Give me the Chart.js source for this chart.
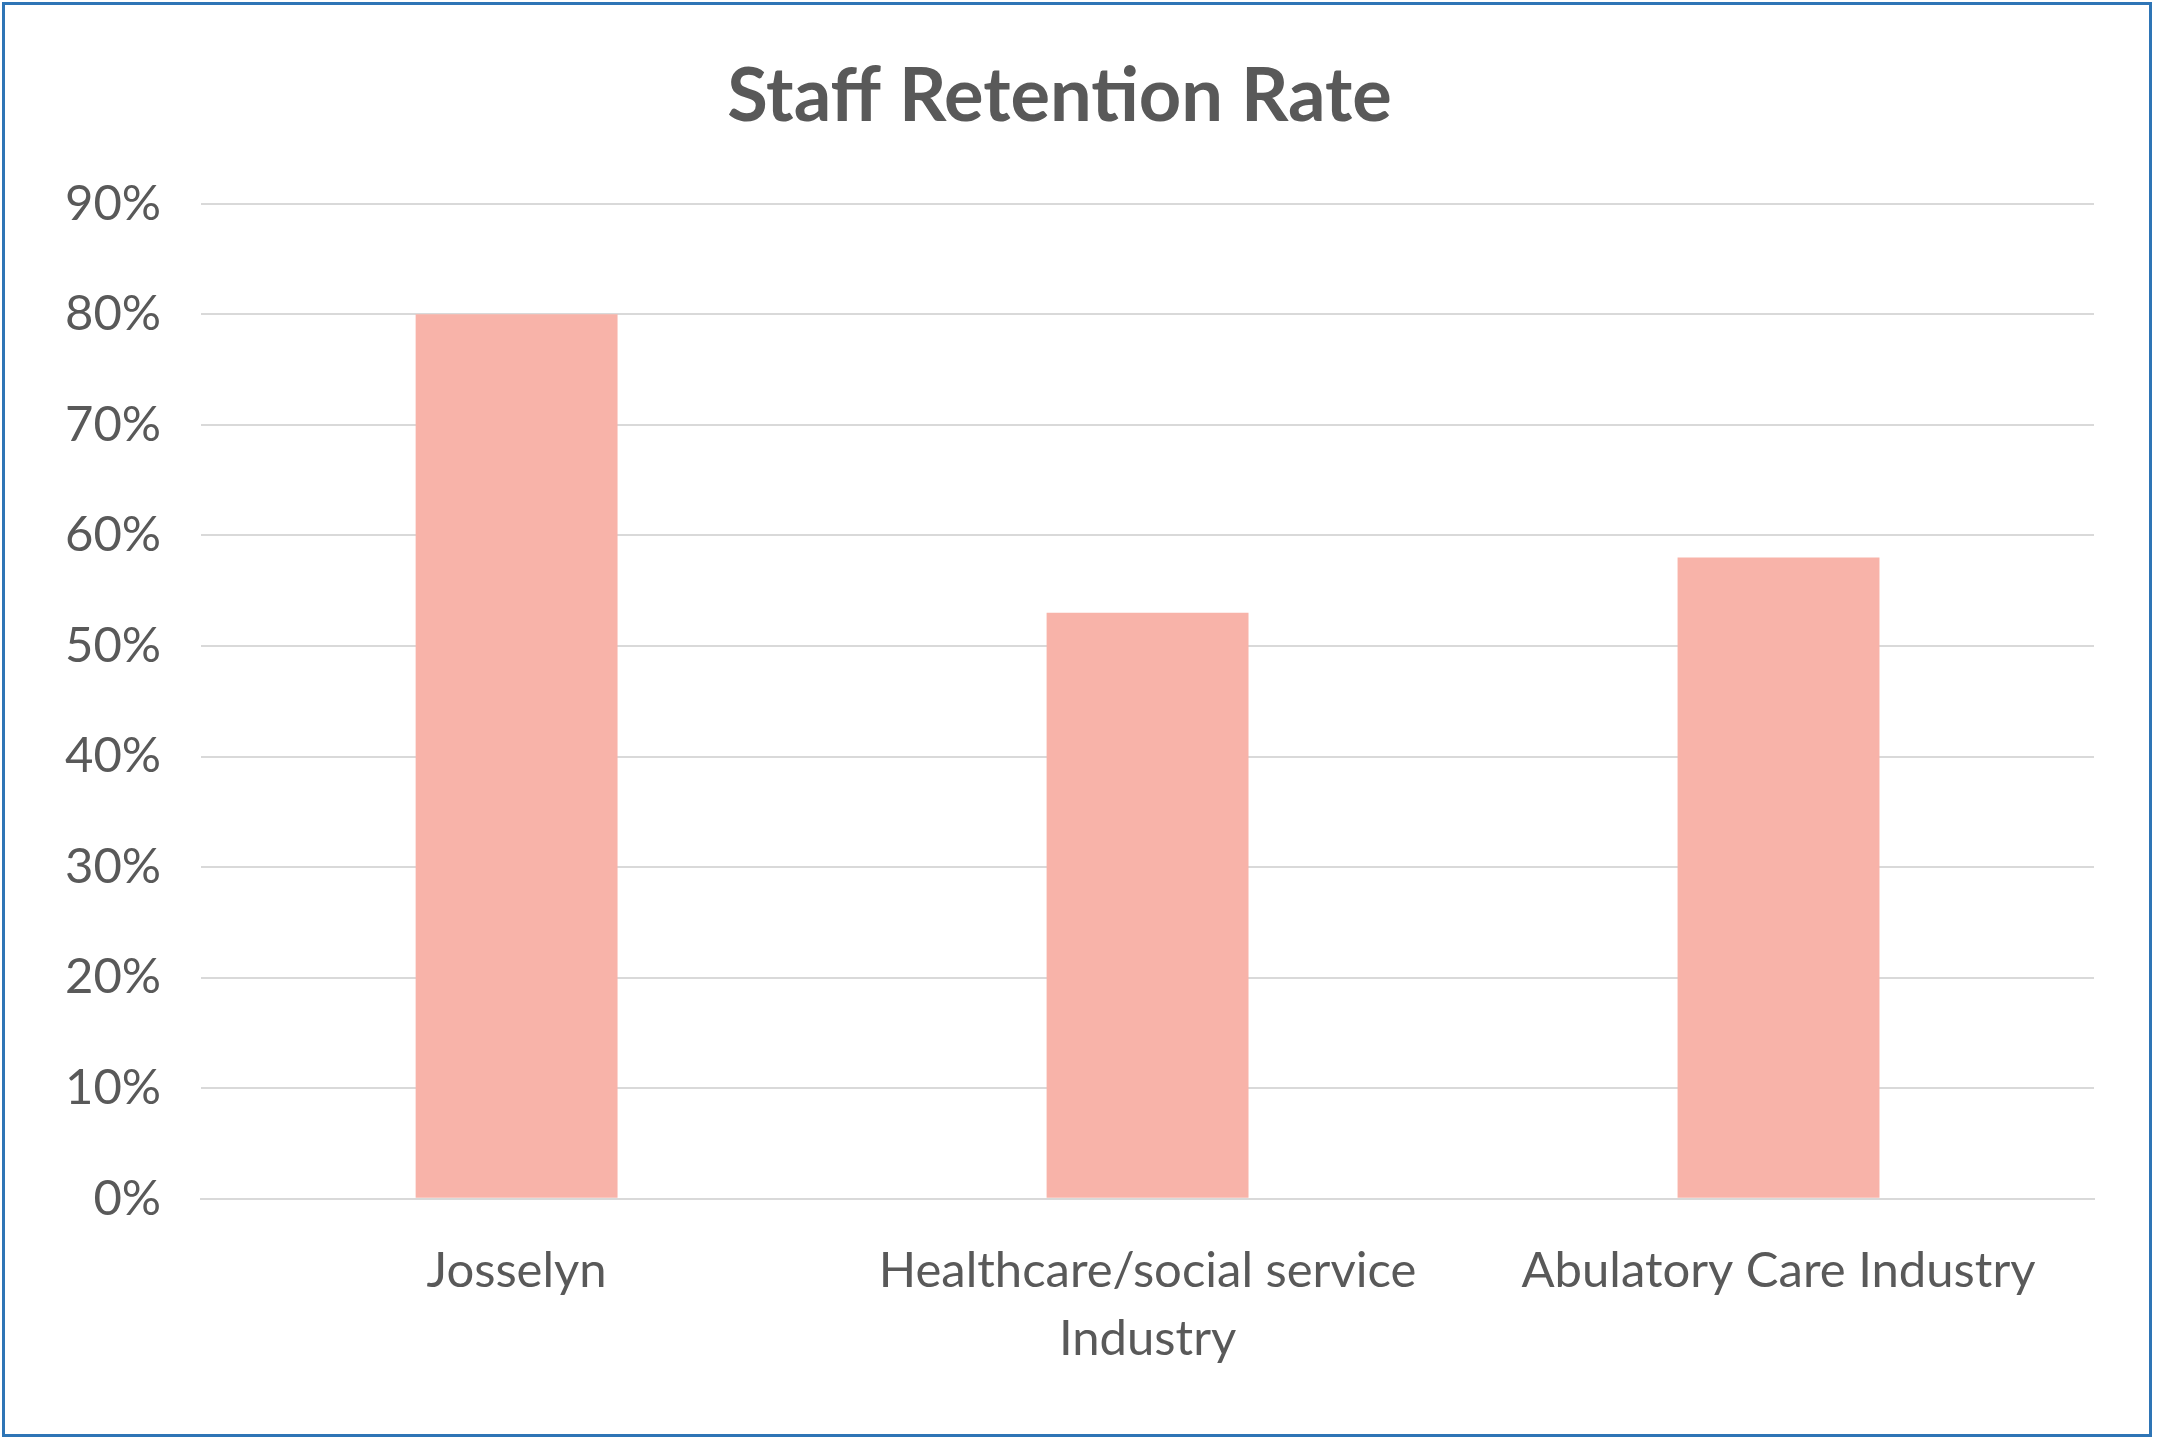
<!DOCTYPE html>
<html>
<head>
<meta charset="utf-8">
<script src="https://cdn.jsdelivr.net/npm/chart.js@4"></script>
<style>
  html, body { margin: 0; padding: 0; background: #fff; }
  #wrap { position: absolute; left: 2px; top: 2px; width: 2150px; height: 1435px; border: 3px solid #2E75B6; box-sizing: border-box; }
</style>
</head>
<body>
<div id="wrap"><canvas id="chart"></canvas></div>
<script>
// Chart data
const categories = ['Josselyn', ['Healthcare/social service', 'Industry'], 'Abulatory Care Industry'];
const retentionValues = [0.80, 0.53, 0.58];

const textColor = '#595959';
const fontFamily = 'Lato, "Open Sans", sans-serif';

const ctx = document.getElementById('chart').getContext('2d');
new Chart(ctx, {
  type: 'bar',
  data: {
    labels: categories,
    datasets: [{
      data: retentionValues,
      backgroundColor: '#F8B3A9',
      barPercentage: 0.32,
      categoryPercentage: 1.0
    }]
  },
  options: {
    responsive: true,
    maintainAspectRatio: false,
    animation: false,
    layout: { padding: { left: 20, right: 55, top: 48, bottom: 30 } },
    plugins: {
      legend: { display: false },
      tooltip: { enabled: false },
      title: {
        display: true,
        text: 'Staff Retention Rate',
        color: textColor,
        font: { family: fontFamily, size: 74, weight: 'bold' },
        padding: { top: 0, bottom: 62 }
      }
    },
    scales: {
      x: {
        grid: { display: false },
        border: { color: '#d9d9d9', width: 2 },
        ticks: {
          color: textColor,
          font: { family: fontFamily, size: 49, lineHeight: 1.4 },
          padding: 30,
          maxRotation: 0
        }
      },
      y: {
        min: 0,
        max: 0.9,
        grid: { color: '#d9d9d9', lineWidth: 2, drawTicks: false },
        border: { display: false },
        ticks: {
          stepSize: 0.1,
          color: textColor,
          font: { family: fontFamily, size: 49 },
          padding: 40,
          callback: v => Math.round(v * 100) + '%'
        }
      }
    }
  }
});
</script>
</body>
</html>
